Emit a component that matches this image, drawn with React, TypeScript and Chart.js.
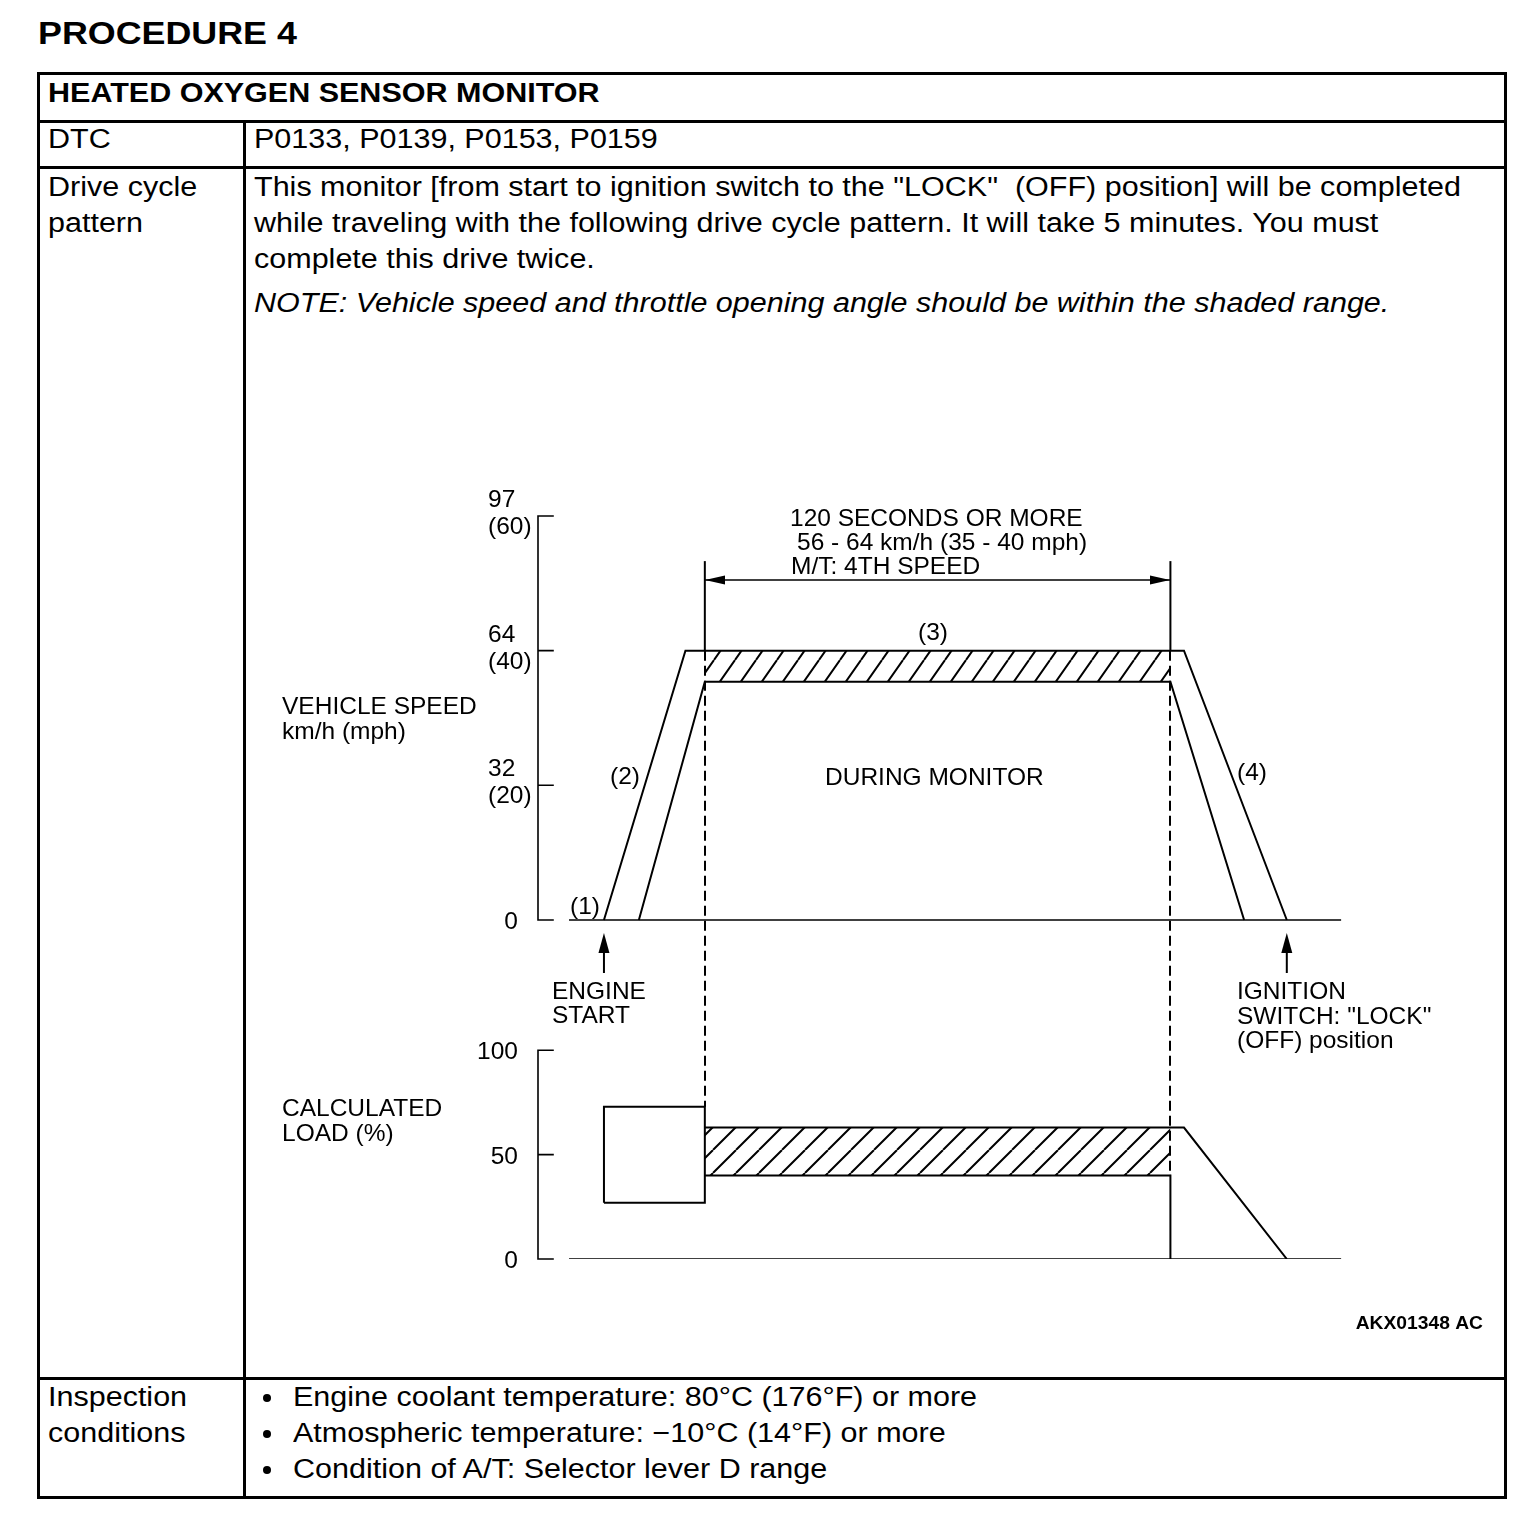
import React, { useEffect, useRef } from "react";
import { Chart, registerables } from "chart.js";

Chart.register(...registerables);

// ---------------- data (time: s from engine start, speed: mph, load: %) ----------------
const speedTicks = [0, 20, 40, 60];
const speedTickLabels = [["0"], ["32", "(20)"], ["64", "(40)"], ["97", "(60)"]];
const loadTicks = [0, 50, 100];
const loadTickLabels = ["0", "50", "100"];

const baselineTime = [0, 199];
const baselineValue = [0, 0];

const speedOuterTime = [9, 30, 158.5, 185];
const speedOuterValue = [0, 40, 40, 0];
const speedInnerTime = [18, 35, 155, 174];
const speedInnerValue = [0, 35.4, 35.4, 0];

const monitorTime = [35, 155]; // 120 seconds or more
const speedBandHigh = [40, 40];
const speedBandLow = [35.4, 35.4];
const extensionValue = [40, 53.3];
const dimensionValue = [50.5, 50.5];

const loadBoxTime = [9, 9, 35, 35, 9];
const loadBoxValue = [27, 73, 73, 27, 27];
const loadUpperTime = [35, 158.5, 185];
const loadUpperValue = [63, 63, 0];
const loadLowerTime = [35, 155, 155];
const loadLowerValue = [40, 40, 0];
const loadBandHigh = [63, 63];
const loadBandLow = [40, 40];

const engineStartTime = 9;
const ignitionOffTime = 185;

// ---------------- text ----------------
const titleText = "PROCEDURE 4";
const monitorName = "HEATED OXYGEN SENSOR MONITOR";
const dtcLabel = "DTC";
const dtcCodes = ["P0133", "P0139", "P0153", "P0159"];
const driveLabel = ["Drive cycle", "pattern"];
const driveText = [
  'This monitor [from start to ignition switch to the "LOCK"  (OFF) position] will be completed',
  "while traveling with the following drive cycle pattern. It will take 5 minutes. You must",
  "complete this drive twice.",
];
const driveNote = "NOTE: Vehicle speed and throttle opening angle should be within the shaded range.";
const inspLabel = ["Inspection", "conditions"];
const inspItems = [
  "Engine coolant temperature: 80°C (176°F) or more",
  "Atmospheric temperature: \u221210°C (14°F) or more",
  "Condition of A/T: Selector lever D range",
];

const diagramNotes: { t: string; x: number; y: number }[] = [
  { t: "120 SECONDS OR MORE", x: 790, y: 526 },
  { t: "56 - 64 km/h (35 - 40 mph)", x: 797, y: 550 },
  { t: "M/T: 4TH SPEED", x: 791, y: 574 },
  { t: "(3)", x: 918, y: 640 },
  { t: "VEHICLE SPEED", x: 282, y: 714 },
  { t: "km/h (mph)", x: 282, y: 739 },
  { t: "(2)", x: 610, y: 784 },
  { t: "DURING MONITOR", x: 825, y: 785 },
  { t: "(4)", x: 1237, y: 780 },
  { t: "(1)", x: 570, y: 914 },
  { t: "ENGINE", x: 552, y: 999 },
  { t: "START", x: 552, y: 1023 },
  { t: "IGNITION", x: 1237, y: 999 },
  { t: 'SWITCH: "LOCK"', x: 1237, y: 1024 },
  { t: "(OFF) position", x: 1237, y: 1048 },
  { t: "CALCULATED", x: 282, y: 1116 },
  { t: "LOAD (%)", x: 282, y: 1141 },
];
const figureId = "AKX01348 AC";

const FONT = "'Liberation Sans', Arial, Helvetica, sans-serif";

function pts(xs: number[], ys: number[]) {
  return xs.map((x, i) => ({ x, y: ys[i] }));
}

function makeHatch(w: number, h: number, lw: number): CanvasPattern | string {
  const c = document.createElement("canvas");
  c.width = w;
  c.height = h;
  const g = c.getContext("2d");
  if (!g) return "rgba(0,0,0,0)";
  g.strokeStyle = "#000";
  g.lineWidth = lw;
  g.beginPath();
  for (const dx of [-w, 0, w]) {
    g.moveTo(dx, h);
    g.lineTo(dx + w, 0);
  }
  g.stroke();
  return g.createPattern(c, "repeat") ?? "rgba(0,0,0,0)";
}

const diagramPlugin = {
  id: "diagram",
  afterDatasetsDraw(chart: any) {
    const ctx: CanvasRenderingContext2D = chart.ctx;
    const xs = chart.scales.x;
    const sp = chart.scales.ySpeed;
    const ld = chart.scales.yLoad;
    const ax = chart.chartArea.left;
    ctx.save();
    ctx.strokeStyle = "#000";
    ctx.fillStyle = "#000";

    // axes (bracket style, ticks pointing inward)
    ctx.lineWidth = 1.6;
    ctx.lineCap = "square";
    const axis = (scale: any, ticks: number[]) => {
      ctx.beginPath();
      ctx.moveTo(ax, scale.getPixelForValue(ticks[ticks.length - 1]));
      ctx.lineTo(ax, scale.getPixelForValue(ticks[0]));
      ticks.forEach((v) => {
        const y = scale.getPixelForValue(v);
        ctx.moveTo(ax, y);
        ctx.lineTo(ax + 15, y);
      });
      ctx.stroke();
    };
    axis(sp, speedTicks);
    axis(ld, loadTicks);

    ctx.font = `24.5px ${FONT}`;
    ctx.textBaseline = "alphabetic";
    speedTicks.forEach((v, i) => {
      const y = sp.getPixelForValue(v);
      const lab = speedTickLabels[i];
      if (lab.length === 1) {
        ctx.textAlign = "right";
        ctx.fillText(lab[0], ax - 20, y + 9);
      } else {
        ctx.textAlign = "left";
        ctx.fillText(lab[0], ax - 50, y - 9);
        ctx.fillText(lab[1], ax - 50, y + 18);
      }
    });
    ctx.textAlign = "right";
    loadTicks.forEach((v, i) => {
      ctx.fillText(loadTickLabels[i], ax - 20, ld.getPixelForValue(v) + 9);
    });

    // dashed guides linking both panels
    ctx.lineCap = "butt";
    ctx.lineWidth = 2;
    ctx.setLineDash([10, 5]);
    ctx.beginPath();
    const gx1 = Math.round(xs.getPixelForValue(monitorTime[0]));
    ctx.moveTo(gx1, sp.getPixelForValue(speedBandHigh[0]));
    ctx.lineTo(gx1, ld.getPixelForValue(loadBoxValue[1]));
    const gx2 = Math.round(xs.getPixelForValue(monitorTime[1]));
    ctx.moveTo(gx2, sp.getPixelForValue(speedBandHigh[1]));
    ctx.lineTo(gx2, ld.getPixelForValue(loadBandLow[1]));
    ctx.stroke();
    ctx.setLineDash([]);

    const head = (tx: number, ty: number, dx: number, dy: number, len: number, half: number) => {
      const px = -dy, py = dx;
      ctx.beginPath();
      ctx.moveTo(tx, ty);
      ctx.lineTo(tx - dx * len + px * half, ty - dy * len + py * half);
      ctx.lineTo(tx - dx * len - px * half, ty - dy * len - py * half);
      ctx.closePath();
      ctx.fill();
    };
    // dimension arrowheads
    const dy = sp.getPixelForValue(dimensionValue[0]);
    head(gx1, dy, -1, 0, 20, 4.5);
    head(gx2, dy, 1, 0, 20, 4.5);

    // event arrows
    const y0 = sp.getPixelForValue(0);
    ctx.lineWidth = 2;
    [engineStartTime, ignitionOffTime].forEach((t) => {
      const x = xs.getPixelForValue(t);
      ctx.beginPath();
      ctx.moveTo(x, y0 + 53);
      ctx.lineTo(x, y0 + 30);
      ctx.stroke();
      head(x, y0 + 13, 0, -1, 20, 5.5);
    });

    // notes
    ctx.textAlign = "left";
    ctx.font = `24.5px ${FONT}`;
    diagramNotes.forEach((n) => ctx.fillText(n.t, n.x, n.y));

    ctx.save();
    ctx.translate(1483, 1329);
    ctx.scale(1.1, 1);
    ctx.textAlign = "right";
    ctx.font = `bold 17.5px ${FONT}`;
    ctx.fillText(figureId, 0, 0);
    ctx.restore();

    ctx.restore();
  },
};

function DiagramChart() {
  const ref = useRef<HTMLCanvasElement | null>(null);
  useEffect(() => {
    if (!ref.current) return;
    const speedHatch = makeHatch(21, 30, 2);
    const loadHatch = makeHatch(23, 23, 2);
    const base = { borderColor: "#000", borderWidth: 2, pointRadius: 0, fill: false, tension: 0 };
    const chart = new Chart(ref.current, {
      type: "line",
      data: {
        datasets: [
          { ...base, label: "speed band", data: pts(monitorTime, speedBandHigh), yAxisID: "ySpeed", borderWidth: 0, fill: "+1", backgroundColor: speedHatch },
          { ...base, label: "speed band low", data: pts(monitorTime, speedBandLow), yAxisID: "ySpeed", borderWidth: 0 },
          { ...base, label: "load band", data: pts(monitorTime, loadBandHigh), yAxisID: "yLoad", borderWidth: 0, fill: "+1", backgroundColor: loadHatch },
          { ...base, label: "load band low", data: pts(monitorTime, loadBandLow), yAxisID: "yLoad", borderWidth: 0 },
          { ...base, label: "speed base", data: pts(baselineTime, baselineValue), yAxisID: "ySpeed", borderWidth: 1.6 },
          { ...base, label: "speed upper", data: pts(speedOuterTime, speedOuterValue), yAxisID: "ySpeed" },
          { ...base, label: "speed lower", data: pts(speedInnerTime, speedInnerValue), yAxisID: "ySpeed" },
          { ...base, label: "ext left", data: pts([monitorTime[0], monitorTime[0]], extensionValue), yAxisID: "ySpeed" },
          { ...base, label: "ext right", data: pts([monitorTime[1], monitorTime[1]], extensionValue), yAxisID: "ySpeed" },
          { ...base, label: "dimension", data: pts(monitorTime, dimensionValue), yAxisID: "ySpeed", borderWidth: 1.6 },
          { ...base, label: "load base", data: pts(baselineTime, baselineValue), yAxisID: "yLoad", borderWidth: 1.6 },
          { ...base, label: "load box", data: pts(loadBoxTime, loadBoxValue), yAxisID: "yLoad" },
          { ...base, label: "load upper", data: pts(loadUpperTime, loadUpperValue), yAxisID: "yLoad" },
          { ...base, label: "load lower", data: pts(loadLowerTime, loadLowerValue), yAxisID: "yLoad" },
        ] as any,
      },
      options: {
        responsive: false,
        animation: false,
        devicePixelRatio: 1,
        layout: { padding: { left: 538, right: 191, top: 516, bottom: 279 } },
        plugins: {
          legend: { display: false },
          tooltip: { enabled: false },
          filler: { drawTime: "beforeDatasetsDraw" } as any,
        },
        scales: {
          x: { type: "linear", min: -8, max: 200, display: false },
          y: { display: false },
          ySpeed: { type: "linear", min: -50.35, max: 60, display: false },
          yLoad: { type: "linear", min: 0, max: 356, display: false },
        } as any,
      },
      plugins: [diagramPlugin],
    });
    return () => chart.destroy();
  }, []);
  return (
    <canvas
      ref={ref}
      width={1536}
      height={1538}
      style={{ position: "absolute", left: 0, top: 0, width: 1536, height: 1538, pointerEvents: "none" }}
    />
  );
}

const TXT: React.CSSProperties = {
  position: "absolute",
  fontFamily: FONT,
  fontSize: 27,
  lineHeight: "36px",
  whiteSpace: "pre",
  transform: "scaleX(1.13)",
  transformOrigin: "0 0",
  color: "#000",
};

function Line(props: { x: number; c: number; text: string; style?: React.CSSProperties }) {
  return <div style={{ ...TXT, left: props.x, top: props.c - 18, ...(props.style || {}) }}>{props.text}</div>;
}

function Rule(props: { x: number; y: number; w: number; h: number }) {
  return <div style={{ position: "absolute", left: props.x, top: props.y, width: props.w, height: props.h, background: "#000" }} />;
}

export default function App() {
  return (
    <div style={{ position: "absolute", left: 0, top: 0, width: 1536, height: 1538, background: "#fff", overflow: "hidden" }}>
      <Line x={38} c={33} text={titleText} style={{ fontWeight: "bold", fontSize: 32, lineHeight: "36px", transform: "scaleX(1.12)" }} />
      <div style={{ position: "absolute", left: 37, top: 72, width: 1470, height: 1427, border: "3px solid #000", boxSizing: "border-box" }} />
      <Rule x={37} y={120} w={1470} h={3} />
      <Rule x={37} y={166} w={1470} h={3} />
      <Rule x={37} y={1377} w={1470} h={3} />
      <Rule x={243} y={120} w={3} h={1379} />

      <Line x={48} c={93} text={monitorName} style={{ fontWeight: "bold" }} />
      <Line x={48} c={139} text={dtcLabel} />
      <Line x={254} c={139} text={dtcCodes.join(", ")} />

      {driveLabel.map((t, i) => (
        <Line key={"dl" + i} x={48} c={187 + i * 36} text={t} />
      ))}
      {driveText.map((t, i) => (
        <Line key={"dt" + i} x={254} c={187 + i * 36} text={t} />
      ))}
      <Line x={254} c={303} text={driveNote} style={{ fontStyle: "italic" }} />

      {inspLabel.map((t, i) => (
        <Line key={"il" + i} x={48} c={1397 + i * 36} text={t} />
      ))}
      {inspItems.map((t, i) => (
        <React.Fragment key={"ii" + i}>
          <div
            style={{
              position: "absolute",
              left: 263,
              top: 1397 + i * 36 - 3,
              width: 8,
              height: 8,
              borderRadius: "50%",
              background: "#000",
            }}
          />
          <Line x={293} c={1397 + i * 36} text={t} />
        </React.Fragment>
      ))}

      <DiagramChart />
    </div>
  );
}
